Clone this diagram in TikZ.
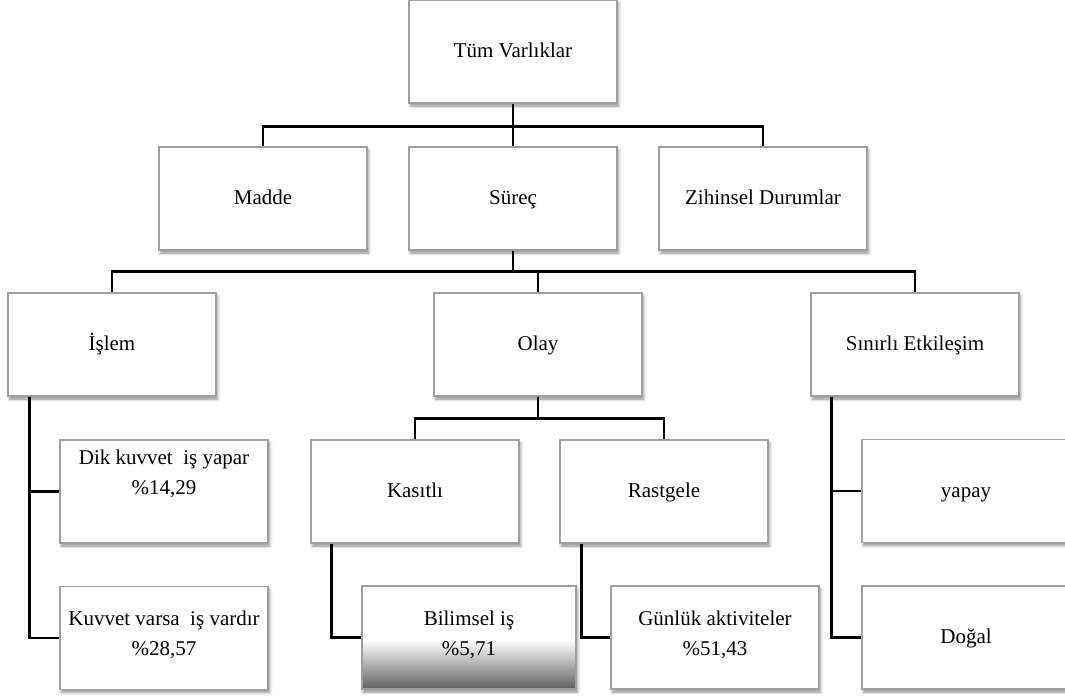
\documentclass[tikz,border=0pt]{standalone}
\usepackage{fontspec}
\setmainfont{Liberation Serif}
\usetikzlibrary{shadows.blur}

% vertical fill that darkens towards the bottom edge of a box
\pgfdeclareverticalshading{bottomfade}{100bp}{%
  color(0bp)=(black!62); color(25bp)=(black!62);
  color(49bp)=(white); color(100bp)=(white)}

\tikzset{
  box/.style={draw=black!38, line width=1.1pt, fill=white,
    minimum width=208pt, minimum height=103pt, inner sep=0pt,
    align=center, text=black,
    font=\fontsize{21}{30}\selectfont,
    execute at begin node=\strut, execute at end node=\strut,
    blur shadow={shadow xshift=1.5pt, shadow yshift=-3pt,
      shadow blur radius=3pt, shadow opacity=45}},
  shadedbox/.style={box, shading=bottomfade},
  conn/.style={draw=black, line width=2.4pt}
}

\begin{document}
\begin{tikzpicture}[x=1pt, y=-1pt]
  \useasboundingbox (0,0) rectangle (1065,697);
  \clip (0,0) rectangle (1065,697);

  % top level
  \node[box] (tum) at (513,51.5) {Tüm Varlıklar};

  % second level
  \node[box] (madde)  at (263,198.5) {Madde};
  \node[box] (surec)  at (513,198.5) {Süreç};
  \node[box] (zihin)  at (763,198.5) {Zihinsel Durumlar};

  % third level
  \node[box] (islem)   at (112,344.5) {İşlem};
  \node[box] (olay)    at (538,344.5) {Olay};
  \node[box] (sinirli) at (915,344.5) {Sınırlı Etkileşim};

  % children of Olay
  \node[box] (kasitli)  at (415,491.5) {Kasıtlı};
  \node[box] (rastgele) at (664,491.5) {Rastgele};

  % children of İşlem
  \node[box] (dik)    at (164,491.5) {Dik kuvvet\ \ iş yapar\\\%14,29\\\mbox{}};
  \node[box] (kuvvet) at (164,638) {Kuvvet varsa\ \ iş vardır\\\%28,57};

  % leaves under Kasıtlı and Rastgele
  \node[shadedbox, minimum width=214pt] (bilimsel) at (469,637.5) {Bilimsel iş\\\%5,71};
  \node[box] (gunluk) at (715,637.5) {Günlük aktiviteler\\\%51,43};

  % children of Sınırlı Etkileşim
  \node[box] (yapay) at (966,491) {yapay};
  \node[box] (dogal) at (966,637.5) {Doğal};

  % connectors
  \draw[conn] (tum.south) -- ++(0,23) -| (madde.north);
  \draw[conn] (tum.south) -- ++(0,23) -| (zihin.north);
  \draw[conn] (tum.south) -- (surec.north);

  \draw[conn] (surec.south) -- ++(0,21) -| (islem.north);
  \draw[conn] (surec.south) -- ++(0,21) -| (olay.north);
  \draw[conn] (surec.south) -- ++(0,21) -| (sinirli.north);

  \draw[conn] (olay.south) -- ++(0,22) -| (kasitli.north);
  \draw[conn] (olay.south) -- ++(0,22) -| (rastgele.north);

  \draw[conn] ([xshift=22pt]islem.south west) |- (kuvvet.west);
  \draw[conn] ([xshift=22pt]islem.south west) |- (dik.west);

  \draw[conn] ([xshift=21pt]kasitli.south west) |- (bilimsel.west);
  \draw[conn] ([xshift=22pt]rastgele.south west) |- (gunluk.west);

  \draw[conn] ([xshift=21pt]sinirli.south west) |- (dogal.west);
  \draw[conn] ([xshift=21pt]sinirli.south west) |- (yapay.west);
\end{tikzpicture}
\end{document}
